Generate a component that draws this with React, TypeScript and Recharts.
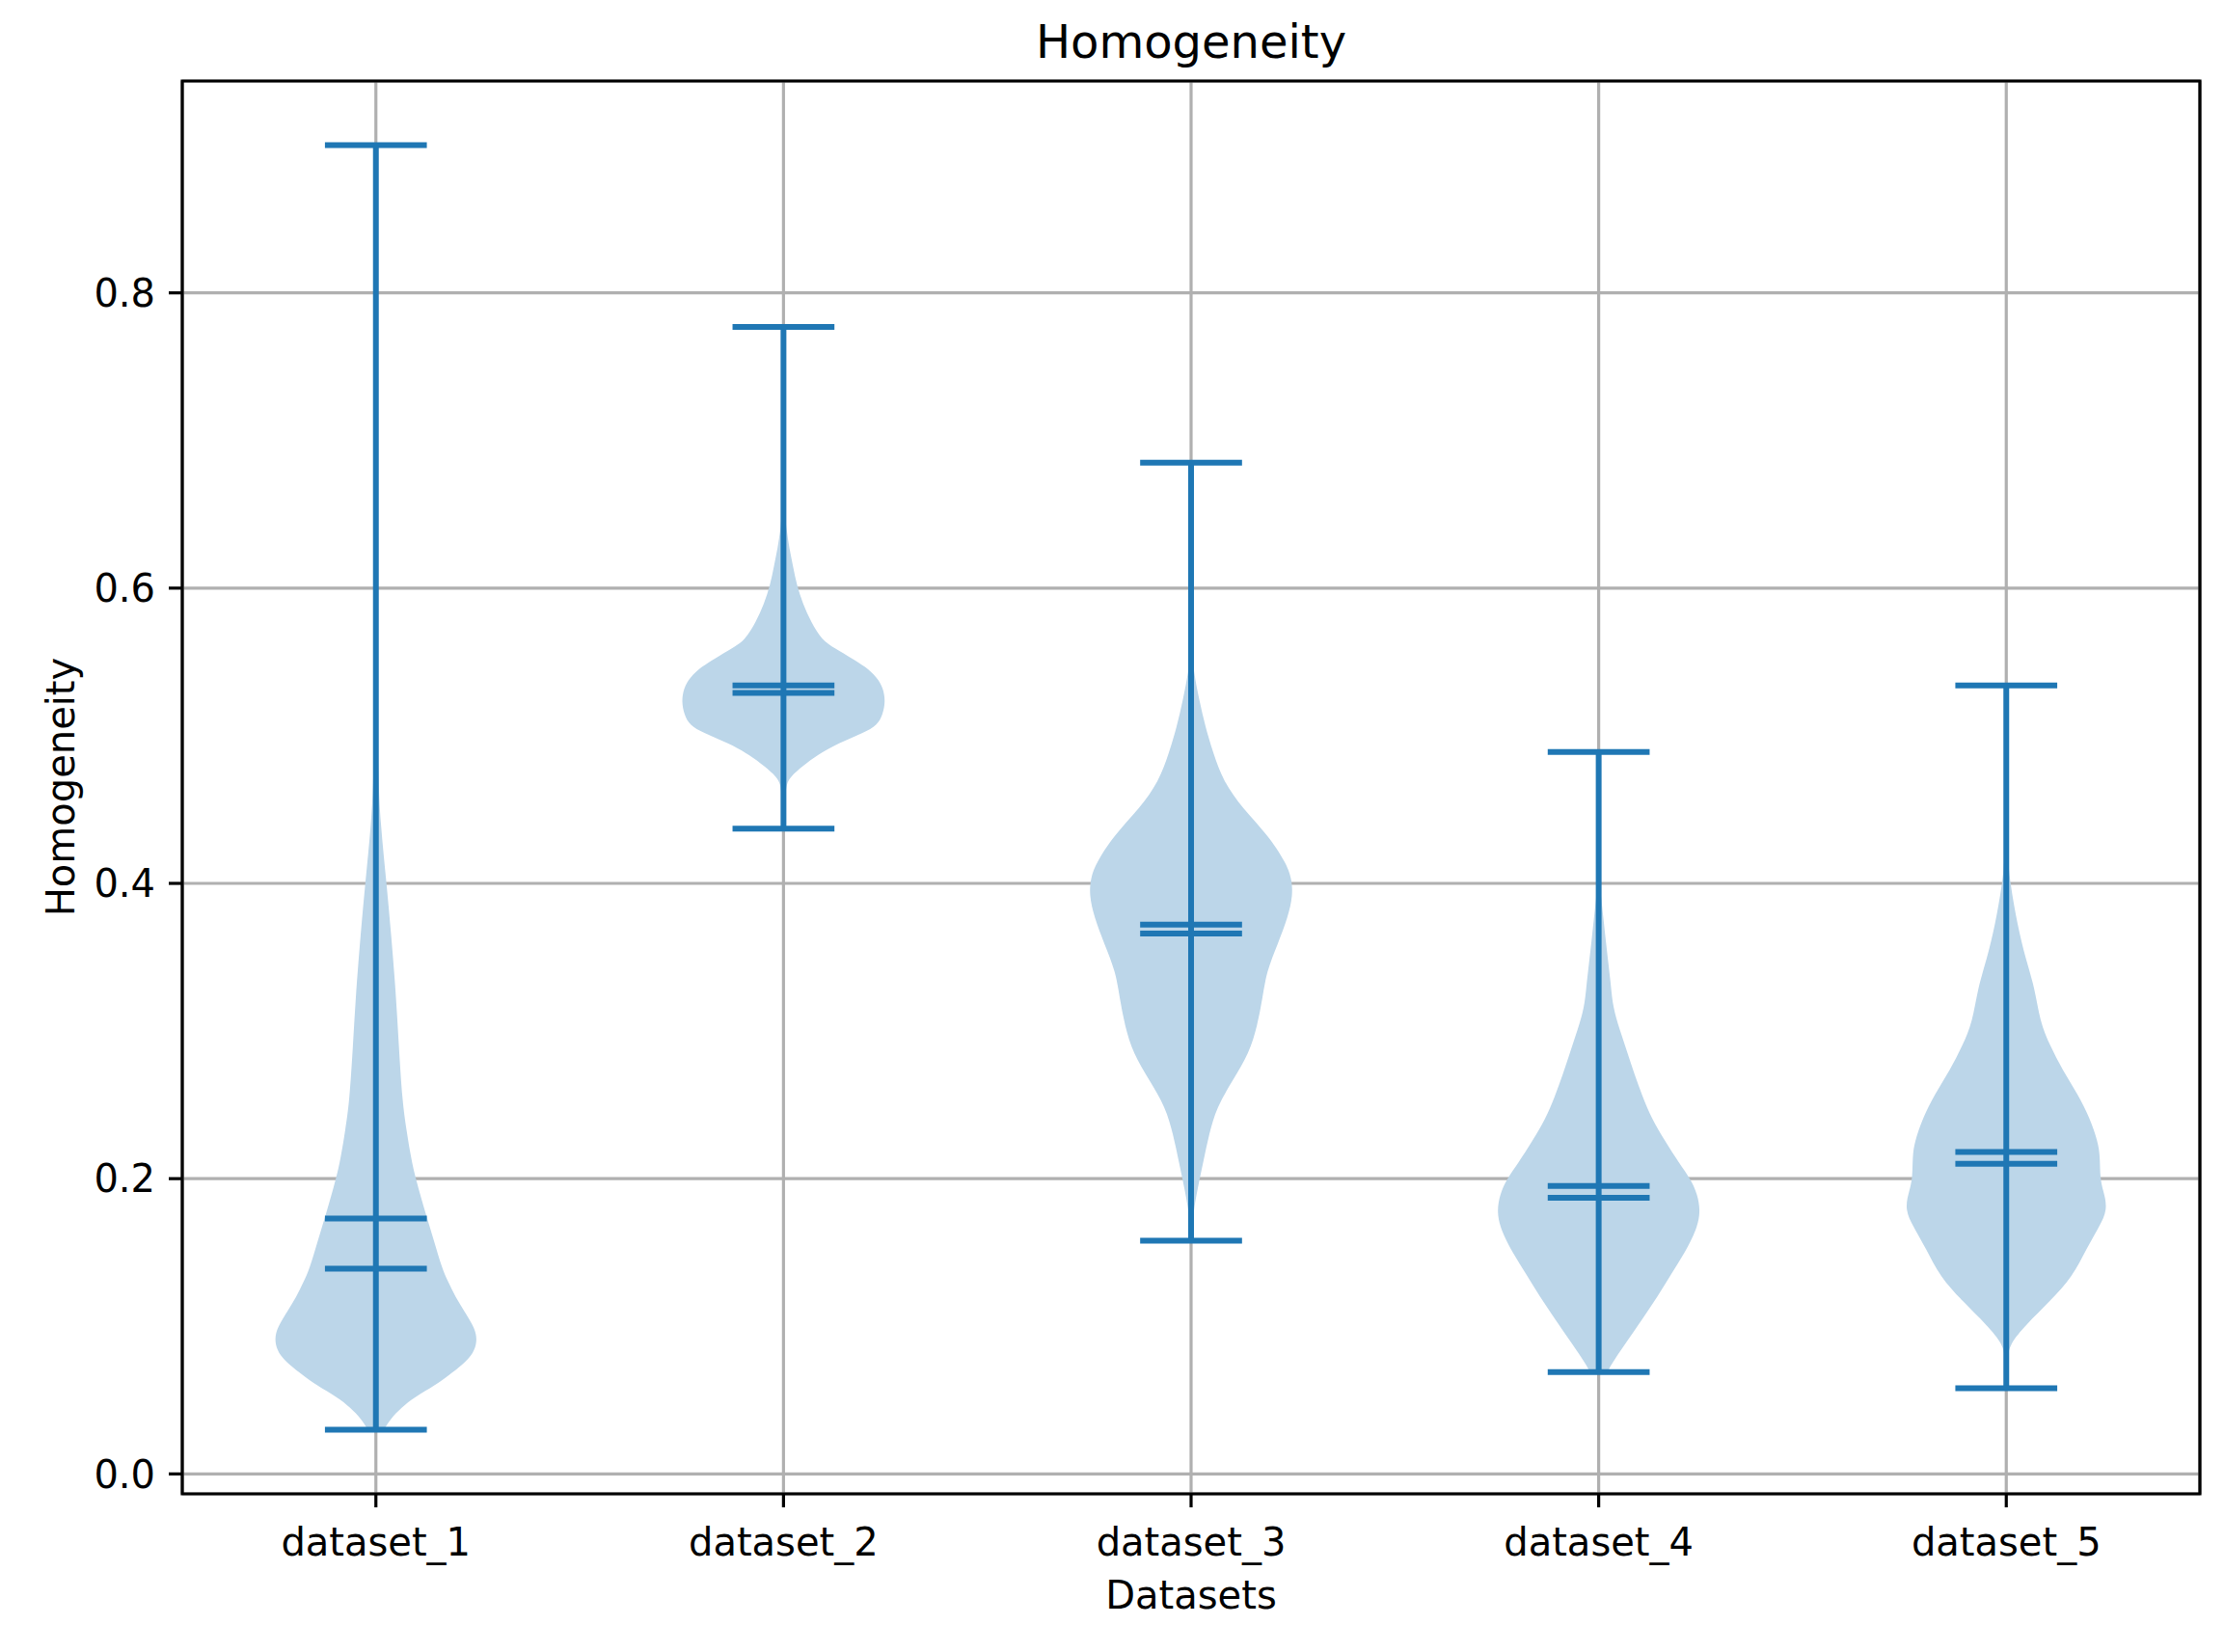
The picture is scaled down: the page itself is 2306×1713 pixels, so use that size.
import React from 'react';
import {
  ComposedChart,
  Scatter,
  XAxis,
  YAxis,
  CartesianGrid,
  ReferenceArea,
} from 'recharts';

// ---- data ----
const CATEGORIES = ['dataset_1', 'dataset_2', 'dataset_3', 'dataset_4', 'dataset_5'];
const POSITIONS = [1, 2, 3, 4, 5];
const MINS = [0.03, 0.437, 0.158, 0.069, 0.058];
const MAXS = [0.9, 0.777, 0.685, 0.489, 0.534];
const MEANS = [0.173, 0.534, 0.372, 0.195, 0.218];
const MEDIANS = [0.139, 0.529, 0.366, 0.187, 0.21];

const Y_TICKS = [0, 0.2, 0.4, 0.6, 0.8];

// violin outlines: value levels and relative half-width (1 = widest)
const D1_LEVELS = [0.03, 0.037, 0.045, 0.052, 0.06, 0.067, 0.074, 0.08, 0.088, 0.095, 0.101, 0.11, 0.12, 0.13, 0.139, 0.158, 0.176, 0.2, 0.214, 0.233, 0.252, 0.29, 0.327, 0.365, 0.4, 0.44, 0.478, 0.55, 0.65, 0.78, 0.9];
const D1_WIDTHS = [0.08, 0.14, 0.25, 0.38, 0.58, 0.72, 0.85, 0.94, 0.99, 0.985, 0.95, 0.87, 0.78, 0.71, 0.65, 0.57, 0.49, 0.39, 0.345, 0.3, 0.26, 0.225, 0.195, 0.15, 0.105, 0.045, 0.018, 0.01, 0.006, 0.004, 0.002];

const D2_LEVELS = [0.437, 0.45, 0.46, 0.467, 0.472, 0.4795, 0.487, 0.495, 0.502, 0.507, 0.5145, 0.523, 0.532, 0.5395, 0.547, 0.552, 0.5595, 0.5645, 0.577, 0.5895, 0.602, 0.6145, 0.627, 0.6395, 0.652, 0.7, 0.777];
const D2_WIDTHS = [0.002, 0.008, 0.018, 0.03, 0.063, 0.19, 0.33, 0.54, 0.79, 0.92, 0.975, 1.0, 0.98, 0.92, 0.8, 0.68, 0.5, 0.38, 0.27, 0.19, 0.13, 0.095, 0.057, 0.03, 0.012, 0.004, 0.001];

const D3_LEVELS = [0.158, 0.1636, 0.1783, 0.193, 0.2114, 0.2298, 0.2483, 0.2667, 0.285, 0.3035, 0.322, 0.3403, 0.3588, 0.377, 0.392, 0.404, 0.414, 0.4324, 0.4508, 0.4693, 0.4877, 0.506, 0.5245, 0.543, 0.56, 0.6, 0.685];
const D3_WIDTHS = [0.003, 0.006, 0.025, 0.063, 0.12, 0.175, 0.25, 0.41, 0.57, 0.65, 0.7, 0.74, 0.85, 0.95, 1.0, 0.985, 0.93, 0.76, 0.505, 0.315, 0.22, 0.14, 0.08, 0.025, 0.008, 0.003, 0.001];

const D4_LEVELS = [0.069, 0.0705, 0.078, 0.09, 0.1051, 0.1202, 0.1353, 0.1503, 0.1654, 0.1774, 0.1895, 0.2, 0.2105, 0.2256, 0.2407, 0.2557, 0.2708, 0.2858, 0.301, 0.316, 0.331, 0.346, 0.361, 0.376, 0.39, 0.4, 0.44, 0.489];
const D4_WIDTHS = [0.085, 0.095, 0.16, 0.28, 0.43, 0.58, 0.71, 0.85, 0.96, 1.0, 0.97, 0.9, 0.79, 0.65, 0.52, 0.43, 0.35, 0.28, 0.205, 0.14, 0.12, 0.095, 0.07, 0.047, 0.025, 0.01, 0.004, 0.001];

const D5_LEVELS = [0.058, 0.068, 0.078, 0.0877, 0.1008, 0.1171, 0.1334, 0.153, 0.166, 0.1791, 0.1921, 0.2, 0.215, 0.2248, 0.2411, 0.2574, 0.2737, 0.29, 0.3064, 0.3292, 0.3488, 0.3716, 0.4, 0.4206, 0.46, 0.534];
const D5_WIDTHS = [0.002, 0.005, 0.012, 0.03, 0.19, 0.43, 0.65, 0.79, 0.9, 1.0, 0.95, 0.92, 0.92, 0.9, 0.82, 0.7, 0.55, 0.43, 0.33, 0.28, 0.19, 0.11, 0.038, 0.01, 0.004, 0.001];

const LEVELS = [D1_LEVELS, D2_LEVELS, D3_LEVELS, D4_LEVELS, D5_LEVELS];
const WIDTHS = [D1_WIDTHS, D2_WIDTHS, D3_WIDTHS, D4_WIDTHS, D5_WIDTHS];

// ---- styling constants ----
const HALF = 0.25; // half of violin width (widths=0.5)
const CAP = 0.125; // half cap length
const X_DOMAIN: [number, number] = [0.525, 5.475];
const Y_DOMAIN: [number, number] = [-0.0135, 0.9435];
const BLUE = '#1f77b4';
const FILL = '#bcd6e9';
const FONT = "'DejaVu Sans', sans-serif";

// outline polygon of each violin: up the right side, down the left side
const violinOutlines = POSITIONS.map((pos, i) => {
  const lv = LEVELS[i];
  const wd = WIDTHS[i];
  const right = lv.map((v, j) => ({ x: pos + wd[j] * HALF, y: v }));
  const left = lv.map((v, j) => ({ x: pos - wd[j] * HALF, y: v })).reverse();
  return [...right, ...left];
});

// whisker bar + caps (min, max, mean, median) of each violin
const segments: { x: number; y: number }[][] = [];
POSITIONS.forEach((pos, i) => {
  segments.push([{ x: pos, y: MINS[i] }, { x: pos, y: MAXS[i] }]);
  [MINS[i], MAXS[i], MEANS[i], MEDIANS[i]].forEach((val) => {
    segments.push([{ x: pos - CAP, y: val }, { x: pos + CAP, y: val }]);
  });
});

const W = 2306;
const H = 1713;

const NoShape = () => <g />;

export default function App() {
  return (
    <div style={{ position: 'absolute', left: 0, top: 0, width: W, height: H, background: '#fff' }}>
      <ComposedChart width={W} height={H} margin={{ top: 84, right: 25, bottom: 0, left: 0 }}>
        <CartesianGrid stroke="#b0b0b0" strokeWidth={3.2} />
        <XAxis
          type="number"
          dataKey="x"
          domain={X_DOMAIN}
          allowDataOverflow
          ticks={POSITIONS}
          tickFormatter={(v: number) => CATEGORIES[Math.round(v) - 1] ?? ''}
          height={164}
          axisLine={false}
          tickLine={{ stroke: '#000', strokeWidth: 3.2 }}
          tickSize={14}
          tickMargin={22}
          tick={{ fill: '#000', fontSize: 40, fontFamily: FONT }}
          interval={0}
        />
        <YAxis
          type="number"
          dataKey="y"
          domain={Y_DOMAIN}
          allowDataOverflow
          ticks={Y_TICKS}
          tickFormatter={(v: number) => v.toFixed(1)}
          width={189}
          axisLine={false}
          tickLine={{ stroke: '#000', strokeWidth: 3.2 }}
          tickSize={14}
          tickMargin={14}
          tick={{ fill: '#000', fontSize: 40, fontFamily: FONT }}
          interval={0}
        />
        {violinOutlines.map((pts, i) => (
          <Scatter
            key={`violin${i}`}
            data={pts}
            line={{ fill: FILL, fillOpacity: 1, stroke: 'none' }}
            lineType="joint"
            lineJointType="basis"
            shape={NoShape}
            isAnimationActive={false}
          />
        ))}
        {segments.map((pts, i) => (
          <Scatter
            key={`seg${i}`}
            data={pts}
            line={{ stroke: BLUE, strokeWidth: 6, fill: 'none' }}
            lineType="joint"
            shape={NoShape}
            isAnimationActive={false}
          />
        ))}
        <ReferenceArea
          x1={X_DOMAIN[0]}
          x2={X_DOMAIN[1]}
          y1={Y_DOMAIN[0]}
          y2={Y_DOMAIN[1]}
          fill="none"
          fillOpacity={0}
          stroke="#000"
          strokeWidth={3.2}
          ifOverflow="visible"
        />
      </ComposedChart>
      <svg width={W} height={H} style={{ position: 'absolute', left: 0, top: 0, pointerEvents: 'none' }}>
        <text x={1235} y={60} textAnchor="middle" fontSize={48} fontFamily={FONT} fill="#000">
          Homogeneity
        </text>
        <text x={1235} y={1668} textAnchor="middle" fontSize={40} fontFamily={FONT} fill="#000">
          Datasets
        </text>
        <text
          x={77}
          y={816}
          textAnchor="middle"
          fontSize={40}
          fontFamily={FONT}
          fill="#000"
          transform="rotate(-90, 77, 816)"
        >
          Homogeneity
        </text>
      </svg>
    </div>
  );
}
